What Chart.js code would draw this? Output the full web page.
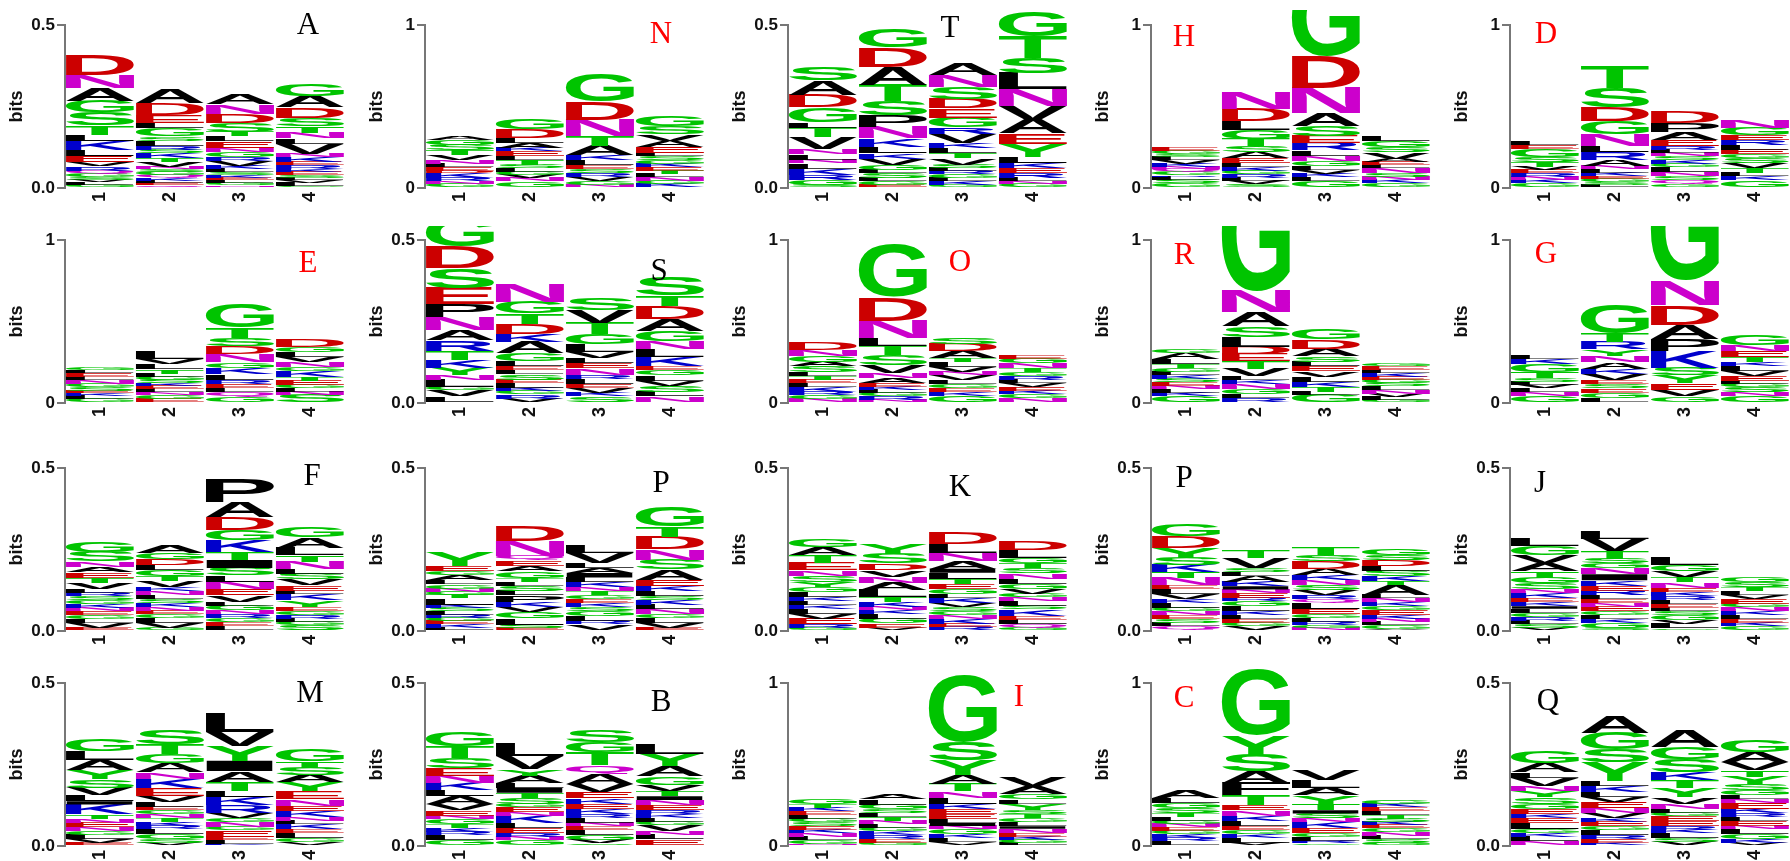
<!DOCTYPE html>
<html>
<head>
<meta charset="utf-8">
<script src="https://cdn.jsdelivr.net/npm/chart.js@4.4.1/dist/chart.umd.min.js"></script>
<style>
  body { margin: 0; background: #fff; width: 1790px; height: 861px; overflow: hidden; position: relative; }
  .panel { position: absolute; }
</style>
</head>
<body>
<script>
// positions along the motif and panel labels
const positions = ["1", "2", "3", "4"];
const panelNames = ["A", "N", "T", "H", "D", "E", "S", "O", "R", "G", "F", "P", "K", "P", "J", "M", "B", "I", "C", "Q"];
const titleColors = ["#000", "#f00", "#000", "#f00", "#f00", "#f00", "#000", "#f00", "#f00", "#f00",
                     "#000", "#000", "#000", "#000", "#000", "#000", "#000", "#f00", "#f00", "#000"];
const yMaxes = [0.5, 1, 0.5, 1, 1, 1, 0.5, 1, 1, 1, 0.5, 0.5, 0.5, 0.5, 0.5, 0.5, 0.5, 1, 1, 0.5];
const tickLabelsHalf = ["0.0", "0.5"];
const tickLabelsOne = ["0", "1"];

// letter stacks, top to bottom, heights in thousandths of a bit
const logoA = [
  "D62 N41 A39 G35 S40 T29 L19 K28 L18 E20 V13 R13 Q10 G10 S8 V8 L8 G9",
  "A43 D35 E25 L17 G25 S13 L15 R12 S10 K15 T13 V15 N8 S8 G10 Q8 K8 L8 E7 Q8",
  "A33 N29 D28 S28 T14 L15 E20 N13 G14 R12 V15 K10 L10 S9 K8 E8 L8 G8 N8",
  "G34 A36 D32 S25 T20 N18 L17 V30 N10 K15 E10 R12 K8 E10 S8 L8 V8 L10 G6"];
const logoN = [
  "A26 G28 S36 T30 V30 N20 L24 E20 D16 K30 R20 N14 G26",
  "G60 D54 L30 A32 K20 E30 L20 T30 S24 L20 G20 V20 N20 G40",
  "G170 D110 N100 T60 A60 K30 L30 E24 S24 R24 V24 G24 N20",
  "G60 S50 V40 A36 E40 L20 S24 G24 K20 E20 T20 L20 N20 G20 K20 Q6"];
const logoT = [
  "S40 A45 D38 G45 L17 T30 V35 N17 L17 N10 L17 K20 R15 G14 S10",
  "G58 D60 A55 T50 S45 P35 N35 K25 L20 K17 V20 G15 L10 S15 L10 G10 E10",
  "A35 N35 S36 D30 E28 G30 R20 V27 K17 L15 T15 V20 S10 L10 R10 G12 L10 K10 G10",
  "G75 T65 S47 L50 N50 V43 A43 E32 Y40 L18 K17 E15 R15 L10 N7 G13"];
const logoH = [
  "E24 G20 S16 L20 V20 K20 N14 Q16 G20 R10 L20 S20 G30",
  "N100 D74 L56 G54 T44 S40 A36 E30 L24 K24 G20 R20 L20 V20 S24",
  "G470 D196 N154 A80 S60 E44 R46 L34 N30 G34 L20 V26 K20 L20 G46",
  "L30 G40 S30 V40 A20 E20 L20 N30 S20 N20 K20 G30"];
const logoD = [
  "L24 E26 G50 S30 T30 V20 E20 R20 N20 K20 G30",
  "T136 S120 D84 G80 N70 L40 R46 A40 N20 L20 K20 E18 G20 S16 L20",
  "D72 P56 A48 E36 R24 L20 N20 S24 K20 G24 L30 N24 S24 Q24 G24",
  "N50 G44 E30 R30 L30 E30 G24 S30 V30 T30 L20 K24 G48"];
const logoE = [
  "G14 L14 E26 L20 N24 G20 S20 E14 K16 L20 G26",
  "L44 V30 L34 T26 L20 G20 S20 K14 E20 L20 N16 G24 E26",
  "G144 T66 S50 D50 N50 G34 K40 L34 R26 E26 L24 Q26 G40",
  "D50 G32 L28 V32 N30 G24 K36 T24 E28 G20 L20 N20 S50"];
const logoS = [
  "G85 D67 S60 E50 P40 N38 A33 R33 T28 K23 Y22 N14 L22 G10 V20 L20",
  "N55 G35 T32 D30 K25 A35 G25 L15 E12 L13 S17 E10 L15 K10 G10 R13 V13",
  "S35 V40 T35 G32 L22 V20 L15 E15 N20 R12 L17 E13 V15 K10 S20",
  "S55 T33 D40 A35 G32 N25 L25 K28 E12 G15 L17 V15 S18 L15 N20"];
const logoO = [
  "D44 N36 G36 A30 S36 L20 T24 E20 L24 K30 R20 G24 N26",
  "G320 D144 N110 L44 T60 S60 V48 N30 A34 E20 K20 L20 G20 R20 N20",
  "S40 D44 A44 T24 L32 V28 N20 V30 L24 G24 E24 K26 G44",
  "E24 G28 N28 T24 G26 R20 L24 V24 E20 K20 G26 N30"];
const logoR = [
  "G24 A36 L30 T24 G24 L20 K24 S20 E24 N20 L20 K20 G44",
  "G700 N130 A90 S66 L60 D44 E44 T46 V44 L26 K24 N32 G28 L26 R30",
  "G60 D56 A46 S34 L30 E30 V32 L32 K30 T30 L20 G50",
  "G18 E24 L20 K20 E20 G20 S20 L24 N20 V20 L20 G18"];
const logoG = [
  "L20 K30 G50 T36 S24 L20 V20 L24 N24 G42",
  "G176 T54 R46 Y40 N40 A40 K30 V40 E24 S26 E26 G32 L32",
  "G620 N150 D120 A86 P74 K106 S44 Y50 E40 V40 G40",
  "G64 N36 E36 T34 K24 L30 V30 E30 L20 G20 S30 N20 G46"];
const logoF = [
  "G32 S30 N16 A16 E17 T16 V20 L12 R10 S12 G12 K12 N10 E10 G12 L13 V15 E10",
  "A22 G18 D18 L15 G18 T16 V18 K12 N12 L13 S12 K12 N12 E10 G12 L15 V15 G10",
  "P70 A47 D38 G32 K35 T25 I25 S22 L20 N23 E18 V20 L12 G15 N12 R12 G12 E12 L15",
  "G30 A32 L22 T20 N22 L15 S18 V18 E16 L12 K18 Y20 E12 G12 R12 L10 G10 S18"];
const logoP1 = [
  "Y43 E17 G12 A16 L12 G13 N10 G10 T10 L20 K10 S10 L10 R10 G10 E10 K10 L10",
  "D48 N47 Q13 E17 A17 G20 T12 L12 S15 L15 P20 K15 V15 G20 L20 S10 E9",
  "L25 V30 L14 A16 I14 L15 K15 N12 T12 G12 E12 K12 S12 G15 L15 R12 V20",
  "G60 T32 D37 N32 S30 A32 E20 K15 L15 S12 K14 L15 N15 G12 L15 V14 E10"];
const logoK = [
  "G22 A25 T25 E22 N17 S18 Y17 G15 L15 K12 L12 K12 L15 V15 E18 R10 G10",
  "Y30 S30 D20 V20 N20 A22 L22 T15 K15 N10 K10 L15 G15 E13 V10",
  "D33 L28 N24 A24 I12 L18 T16 E17 G15 L12 K15 V12 S12 G12 N12 K15 E10 R13",
  "D27 L23 G16 T15 S17 N17 L15 G15 V17 G10 N12 L15 S10 K20 E12 L14 Q10 G10"];
const logoP2 = [
  "G35 D35 Y30 S22 K22 T18 N22 E12 L15 V15 K12 L15 G12 N12 E12 S12 L10 Q14",
  "T22 V30 S12 L12 A18 K14 I10 N10 E15 R10 G15 L15 K12 L12 E12 G12 V14",
  "T22 S20 D22 A20 K14 N17 S15 V15 R12 Q10 L20 E15 G12 L12 R10 G9 N10",
  "G18 S15 D18 L14 S18 K14 T13 A30 L10 N12 K12 G12 E15 K12 N10 L10 G12 V5"];
const logoJ = [
  "L25 G28 V25 A25 T20 G18 S18 N12 K15 E12 K13 I8 L12 G12 R12 L10 S12 V10",
  "L24 V38 T23 S15 G15 N18 I18 K17 E16 R14 L12 E12 N10 E15 G12 L12 K12 G14 S10",
  "L22 G18 V20 T16 N17 E13 K12 R12 L13 E12 L10 S12 G15 V10 L15 G8",
  "G14 S14 T12 L12 V12 E15 G10 N12 K12 L12 E12 K10 G16"];
const logoM = [
  "G38 L28 A32 Y28 S25 V22 L20 I10 K30 T13 N12 E15 N10 G12 L15 V10 E10",
  "S42 T30 G28 A28 N20 K28 E25 V18 L15 E12 G12 N12 T12 K12 R10 L15 G16 S10 V10",
  "L60 V43 Y45 I32 A33 T28 L18 K25 R25 V15 G12 N15 G10 E20 E12 L10 K7",
  "G35 T20 S22 A22 Y28 E25 N20 E15 K20 N10 L12 K15 E12 L15 G12 V12"];
const logoB = [
  "G45 T35 S30 E25 N22 K22 L18 A23 V20 E17 N10 G15 T12 K13 R10 L15 G18",
  "L40 V40 Y20 A22 L15 I15 T15 S18 G10 E15 N12 K22 L15 E15 R12 N12 G17",
  "S35 G30 T40 Q25 A32 V25 E20 K17 E15 K15 R12 L15 N12 E12 L15 G15 V10 S8",
  "L32 Y38 A32 G25 V20 T15 I12 N15 E15 R12 K12 L12 G12 V18 N10 L15 E20"];
const logoI = [
  "G34 T24 K24 E24 L20 G24 S24 E20 K20 N24 L20 G24 N12",
  "A34 L32 G30 S24 L24 T20 N20 L24 G20 K24 R24 E24 G20",
  "G414 S110 Y90 A56 T44 N40 L40 K30 E30 E30 L24 I20 N20 G30 K24 L24 V24",
  "V54 A46 G34 L26 Y40 S26 T24 G24 L24 I16 N24 E24 K20 G20 L18"];
const logoC = [
  "A44 L30 G34 S30 T24 L20 G20 N20 E24 G20 K20 R20 L32",
  "G400 Y120 S100 A74 F76 T60 E32 N32 K34 L30 E24 G24 K24 L30 V20",
  "V64 L50 A46 Y50 T40 I20 S30 N24 K36 E30 G24 L24 R16 G16",
  "G20 K20 E24 L24 T24 S20 K20 E20 G24 N20 L24 S20 G20"];
const logoQ = [
  "G35 A28 L17 V25 N16 Y20 S20 G15 E15 K13 E15 L20 G10 K12 L15 N14",
  "A53 G50 S40 Y57 L15 K18 L17 V15 E18 N15 V15 K12 E15 G12 L15 R13 E10 K10",
  "A52 G37 S40 K24 T24 Y28 V20 N16 L12 G10 E15 E15 R12 K10 L15 S12 V13",
  "G35 A30 V25 T20 Y22 S20 G15 L12 N10 E18 K15 R12 L12 E15 N10 L15 G16 K10 V10"];

const logos = [logoA, logoN, logoT, logoH, logoD, logoE, logoS, logoO, logoR, logoG,
               logoF, logoP1, logoK, logoP2, logoJ, logoM, logoB, logoI, logoC, logoQ];

// layout of the 4 x 5 grid
const axisXs = [65, 425, 788, 1151, 1510];
const clipTops = [10, 226, 430, 645];
const tickTops = [25, 240, 468, 683];
const rowEnds = [215, 430, 645, 861];
const rowTops = [0, 215, 430, 645];
const plotH = 163;
const canvasW = 355;
const titleDX = [243, 236, 162, 33, 36, 243, 234, 172, 33, 36, 247, 236, 172, 33, 30, 245, 236, 231, 33, 38];
const titleDY = [24, 33, 27, 36, 33, 47, 55, 46, 39, 38, 45, 52, 56, 47, 52, 47, 56, 51, 52, 55];

const letterFont = 'bold 200px "Liberation Sans"';
const axisFont = {family: "Liberation Sans", size: 17, weight: "bold"};
function letterColor(L) {
  if ("GSTYC".includes(L)) return "#00c400";
  if ("NQ".includes(L)) return "#cc00cc";
  if ("KRH".includes(L)) return "#0000cc";
  if ("DE".includes(L)) return "#cc0000";
  return "#000000";
}

const glyphs = {};
function glyph(ctx, L) {
  if (!glyphs[L]) {
    ctx.save();
    ctx.font = letterFont;
    const m = ctx.measureText(L);
    ctx.restore();
    glyphs[L] = {l: m.actualBoundingBoxLeft, r: m.actualBoundingBoxRight,
                 a: m.actualBoundingBoxAscent, d: m.actualBoundingBoxDescent};
  }
  return glyphs[L];
}

const logoPlugin = {
  id: "logo",
  afterDatasetsDraw(chart) {
    const ctx = chart.ctx;
    chart.data.datasets.forEach((ds, di) => {
      chart.getDatasetMeta(di).data.forEach((bar, i) => {
        const L = ds.letters[i];
        const p = bar.getProps(["x", "y", "base", "width"], true);
        const h = p.base - p.y;
        if (!L || h <= 0.1) return;
        const g = glyph(ctx, L);
        ctx.save();
        ctx.translate(p.x - p.width / 2, p.y);
        ctx.scale(p.width / (g.l + g.r), h / (g.a + g.d));
        ctx.font = letterFont;
        ctx.textAlign = "left";
        ctx.textBaseline = "alphabetic";
        ctx.fillStyle = letterColor(L);
        ctx.fillText(L, g.l, g.a);
        ctx.restore();
      });
    });
  },
  afterDraw(chart, args, opts) {
    const ctx = chart.ctx;
    ctx.save();
    ctx.font = '31px "Liberation Serif"';
    ctx.textAlign = "center";
    ctx.textBaseline = "alphabetic";
    ctx.fillStyle = opts.color;
    ctx.fillText(opts.text, opts.x, opts.y + 10);
    ctx.restore();
  }
};

function parseColumn(s) {
  return s.split(" ").map(t => ({l: t[0], v: +t.slice(1) / 1000}));
}

logos.forEach((cols, p) => {
  const r = Math.floor(p / 5), c = p % 5;
  const top = clipTops[r];
  const h = rowEnds[r] - top;
  const padTop = tickTops[r] - top;
  const xH = h - padTop - plotH;
  const wrap = document.createElement("div");
  wrap.className = "panel";
  wrap.style.left = (axisXs[c] - 65) + "px";
  wrap.style.top = top + "px";
  wrap.style.width = canvasW + "px";
  wrap.style.height = h + "px";
  const canvas = document.createElement("canvas");
  canvas.width = canvasW;
  canvas.height = h;
  wrap.appendChild(canvas);
  document.body.appendChild(wrap);

  // bottom-up layers
  const stacks = cols.map(s => parseColumn(s).reverse());
  const depth = Math.max(...stacks.map(s => s.length));
  const datasets = [];
  for (let k = 0; k < depth; k++) {
    datasets.push({
      data: stacks.map(s => s[k] ? s[k].v : 0),
      letters: stacks.map(s => s[k] ? s[k].l : ""),
      backgroundColor: "rgba(0,0,0,0)",
      borderWidth: 0,
      clip: false,
      barPercentage: 0.975,
      categoryPercentage: 1
    });
  }
  const yMax = yMaxes[p];
  const tickText = yMax === 1 ? tickLabelsOne : tickLabelsHalf;

  new Chart(canvas, {
    type: "bar",
    data: {labels: positions, datasets: datasets},
    plugins: [logoPlugin],
    options: {
      responsive: false,
      animation: false,
      events: [],
      layout: {padding: {top: padTop, right: 10, left: 0, bottom: 0}},
      plugins: {
        legend: {display: false},
        tooltip: {enabled: false},
        logo: {text: panelNames[p], color: titleColors[p],
               x: 65 + titleDX[p], y: rowTops[r] + titleDY[p] - top}
      },
      scales: {
        x: {
          stacked: true,
          grid: {display: false, drawTicks: false},
          border: {display: false},
          ticks: {minRotation: 90, maxRotation: 90, autoSkip: false, padding: 4,
                  color: "#111", font: {family: "Liberation Sans", size: 18, weight: "bold"}},
          afterFit: s => { s.height = xH; }
        },
        y: {
          stacked: true,
          min: 0,
          max: yMax,
          afterBuildTicks: s => { s.ticks = [{value: 0}, {value: yMax}]; },
          ticks: {
            padding: 2,
            color: "#111",
            font: axisFont,
            callback: v => (v === 0 ? tickText[0] : tickText[1])
          },
          grid: {drawOnChartArea: false, drawTicks: true, tickLength: 8, color: "#777", lineWidth: 2},
          border: {display: true, color: "#777", width: 2},
          title: {display: true, text: "bits", color: "#111", padding: {top: 6, bottom: 0},
                  font: {family: "Liberation Sans", size: 18, weight: "bold"}},
          afterFit: s => { s.width = 65; }
        }
      }
    }
  });
});
</script>
</body>
</html>
